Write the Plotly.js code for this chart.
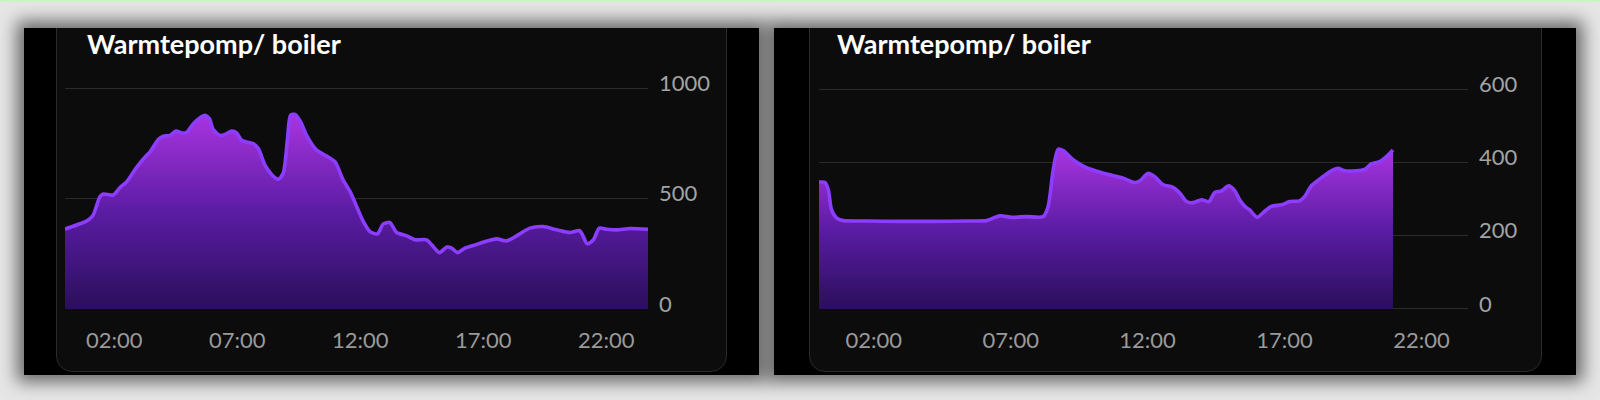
<!DOCTYPE html>
<html>
<head>
<meta charset="utf-8">
<script src="https://cdn.plot.ly/plotly-3.0.1.min.js"></script>
<style>
  html, body { margin: 0; padding: 0; }
  body { width: 1600px; height: 400px; background: #e6e6e6; position: relative; overflow: hidden; font-family: Lato, sans-serif; }
  .topline { position: absolute; left: 0; top: 0; width: 1600px; height: 2px; background: #cdf3c1; z-index: 5; }
  .panel { position: absolute; top: 28px; height: 347px; background: #000; overflow: hidden;
           box-shadow: 0 0 16px 7px rgba(0,0,0,0.55); }
  .card { position: absolute; top: -20px; height: 364px; background: #0c0c0c; border: 1px solid #2a2a2a;
          border-radius: 16px; box-sizing: border-box; }
  .plot { position: absolute; left: 0; top: 0; height: 347px; }
</style>
</head>
<body>
<div class="topline"></div>
<div class="panel" style="left:24px; width:735px;">
  <div class="card" style="left:32px; width:671px;"></div>
  <div id="chart1" class="plot" style="width:735px;"></div>
</div>
<div class="panel" style="left:774px; width:802px;">
  <div class="card" style="left:35px; width:733px;"></div>
  <div id="chart2" class="plot" style="width:802px;"></div>
</div>
<script>
// ---------- data ----------
const chartTitle = "Warmtepomp/ boiler";
const xTickVals = [2, 7, 12, 17, 22];
const xTickText = ["02:00", "07:00", "12:00", "17:00", "22:00"];

// Left chart: hours of the day and power values
const leftHours = [0, 0.47, 0.95, 1.15, 1.42, 1.56, 1.96, 2.24, 2.51, 2.91, 3.32, 3.46, 3.79, 4.0, 4.27, 4.51, 4.74, 4.95,
  5.22, 5.49, 5.69, 5.87, 6.03, 6.3, 6.5, 6.78, 6.98, 7.18, 7.38, 7.65, 7.86, 8.13, 8.4, 8.67, 8.87, 9.04, 9.17, 9.35,
  9.58, 9.82, 10.23, 10.64, 10.98, 11.31, 11.59, 11.86, 12.13, 12.4, 12.7, 12.94, 13.21, 13.48, 13.89, 14.23, 14.7,
  14.91, 15.22, 15.52, 15.72, 15.95, 16.26, 16.6, 17.0, 17.55, 17.96, 18.36, 18.9, 19.44, 19.99, 20.53, 20.91, 21.04,
  21.23, 21.48, 21.72, 22.02, 22.43, 22.97, 23.7];
const leftValues = [362, 380, 403, 426, 508, 520, 516, 550, 576, 641, 696, 711, 767, 782, 786, 806, 797, 800,
  839, 866, 877, 862, 812, 786, 790, 806, 797, 764, 756, 749, 726, 651, 609, 587, 614, 764, 877, 881,
  847, 786, 719, 692, 666, 583, 531, 463, 395, 350, 340, 385, 391, 346, 331, 313, 313,
  290, 255, 280, 275, 255, 275, 287, 302, 317, 308, 331, 366, 373, 358, 346, 355, 335,
  295, 313, 366, 361, 358, 364, 361];
const leftTickVals = [0, 500, 1000];

// Right chart
const rightHours = [0, 0.22, 0.34, 0.46, 0.65, 0.89, 1.74, 2.96, 4.17, 5.39, 6.12, 6.6, 7.03, 7.58, 8.19, 8.37, 8.55,
  8.73, 8.92, 9.28, 9.65, 10.01, 10.5, 11.11, 11.53, 11.72, 12.02, 12.26, 12.57, 12.93, 13.18, 13.42, 13.66, 13.97,
  14.24, 14.45, 14.7, 14.96, 15.18, 15.36, 15.55, 15.73, 16.0, 16.22, 16.52, 16.89, 17.19, 17.55, 17.74, 17.98, 18.4,
  18.71, 18.95, 19.2, 19.62, 19.93, 20.17, 20.47, 20.72, 20.96];
const rightValues = [346, 345, 325, 270, 248, 241, 240, 239, 239, 240, 241, 254, 250, 252, 252, 280, 379,
  436, 432, 407, 390, 379, 368, 357, 345, 350, 370, 361, 339, 332, 316, 293, 290, 298,
  293, 318, 322, 336, 323, 298, 280, 270, 250, 263, 280, 284, 293, 295, 307, 336, 361,
  377, 384, 377, 377, 381, 396, 402, 416, 434];
const rightTickVals = [0, 200, 400, 600];

// ---------- drawing ----------
const lineColor = "#8c3dff";
const gradScale = [[0, "#2a0f5c"], [0.5, "#5b1ca4"], [1, "#a934e0"]];

function makeChart(id, hours, values, yTicks, yMax, widthPx, m) {
  const maxVal = Math.max.apply(null, values);
  const pad = yMax * 0.005;
  const trace = {
    x: hours, y: values, type: "scatter", mode: "lines",
    line: { color: lineColor, width: 3.6, shape: "spline", smoothing: 0.7 },
    fill: "tozeroy",
    fillgradient: { type: "vertical", colorscale: gradScale, start: 0, stop: maxVal },
    hoverinfo: "skip"
  };
  const layout = {
    width: widthPx, height: 347,
    paper_bgcolor: "rgba(0,0,0,0)", plot_bgcolor: "rgba(0,0,0,0)",
    margin: m,
    showlegend: false,
    title: {
      text: chartTitle, xref: "container", yref: "container",
      x: 63 / widthPx, xanchor: "left", y: 1 - 17 / 347, yanchor: "middle",
      font: { family: "Lato", size: 27, color: "#ffffff", weight: "bold" }
    },
    xaxis: {
      range: [0, 23.7], tickvals: xTickVals, ticktext: xTickText,
      showgrid: false, zeroline: false, showline: false, ticks: "",
      ticklabelstandoff: 15,
      tickfont: { family: "Lato", size: 22, color: "#9a9a9a" }
    },
    yaxis: {
      range: [-pad, yMax + pad], tickvals: yTicks, side: "right",
      showgrid: true, gridcolor: "#2b2b2b", gridwidth: 1,
      zeroline: false, showline: false, ticks: "",
      ticklabelstandoff: 10, ticklabelshift: -5,
      tickfont: { family: "Lato", size: 22, color: "#a3a3a3" }
    }
  };
  Plotly.newPlot(id, [trace], layout, { staticPlot: true, displayModeBar: false });
}

makeChart("chart1", leftHours, leftValues, leftTickVals, 1000, 735, { l: 41, r: 111, t: 59, b: 65 });
makeChart("chart2", rightHours, rightValues, rightTickVals, 600, 802, { l: 45, r: 108, t: 60, b: 65 });
</script>
</body>
</html>
